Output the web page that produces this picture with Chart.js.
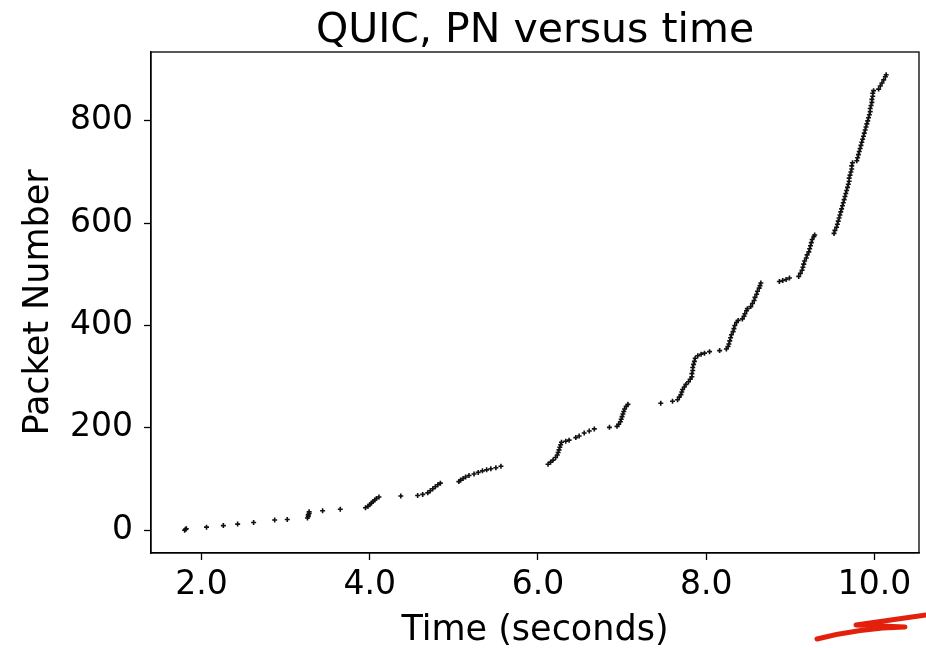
<!DOCTYPE html>
<html>
<head>
<meta charset="utf-8">
<script src="https://cdn.jsdelivr.net/npm/chart.js@4.4.0/dist/chart.umd.min.js"></script>
<style>
  html, body { margin: 0; padding: 0; background: #fff; }
  canvas { display: block; }
</style>
</head>
<body>
<canvas id="chart" width="926" height="648"></canvas>
<script>
// time (s) of each sent packet
const times = [
  1.80, 1.81, 1.82, 2.06, 2.26, 2.43, 2.62, 2.87, 3.02,
  3.26, 3.27, 3.27, 3.28, 3.28, 3.44, 3.65, 3.95,
  3.98, 4.00, 4.02, 4.04, 4.06, 4.08, 4.11,
  4.37, 4.57, 4.63, 4.69, 4.72, 4.75, 4.78, 4.81, 4.84,
  5.06, 5.08, 5.11, 5.14, 5.18, 5.24, 5.29, 5.34, 5.39, 5.44, 5.50, 5.56,
  6.12, 6.15, 6.18, 6.21, 6.23, 6.24, 6.25, 6.26, 6.27, 6.28,
  6.33, 6.37, 6.45, 6.49, 6.55, 6.61, 6.67, 6.85,
  6.94, 6.96, 6.98, 6.99, 7.00, 7.01, 7.02, 7.03, 7.05, 7.07,
  7.46, 7.60, 7.66, 7.68, 7.70, 7.71, 7.72, 7.74, 7.76, 7.79, 7.81, 7.83,
  7.83, 7.84, 7.84, 7.85, 7.86, 7.87, 7.90, 7.94, 7.98, 8.04, 8.16,
  8.24, 8.26, 8.27, 8.28, 8.29, 8.30, 8.32, 8.33, 8.34, 8.36, 8.38,
  8.43, 8.45, 8.46, 8.48, 8.49,
  8.53, 8.55, 8.57, 8.58, 8.60, 8.61, 8.63, 8.64, 8.65,
  8.87, 8.91, 8.95, 8.99,
  9.10, 9.12, 9.14, 9.15, 9.16, 9.17, 9.19, 9.20, 9.22, 9.23, 9.24, 9.25, 9.26, 9.28, 9.29,
  9.52, 9.53, 9.55, 9.56, 9.57, 9.58, 9.59, 9.60, 9.61, 9.62, 9.63, 9.64,
  9.65, 9.66, 9.67, 9.68, 9.69, 9.70, 9.70, 9.71, 9.72, 9.73, 9.73, 9.74,
  9.79, 9.80, 9.81, 9.82, 9.83, 9.84, 9.85, 9.86, 9.87, 9.88, 9.89, 9.90,
  9.91, 9.92, 9.93, 9.94, 9.95, 9.95, 9.96, 9.97, 9.97, 9.98, 9.98, 9.99,
  10.05, 10.07, 10.09, 10.11, 10.13, 10.14
];

// packet number for each of the times above
const packetNumbers = [
  0, 2, 3, 6, 9, 12, 15, 20, 21,
  24, 27, 30, 33, 36, 38, 41, 44,
  47, 50, 53, 56, 59, 62, 65,
  67, 68, 70, 73, 77, 81, 85, 89, 92,
  95, 98, 101, 104, 107, 110, 113, 116, 118, 120, 122, 125,
  129, 133, 137, 142, 147, 152, 157, 162, 167, 172,
  174, 176, 181, 184, 190, 194, 198, 201,
  203, 207, 212, 217, 222, 227, 232, 237, 242, 246,
  248, 252, 255, 260, 265, 270, 275, 280, 285, 290, 295, 300,
  306, 312, 318, 324, 330, 336, 341, 344, 346, 349, 351,
  354, 359, 364, 370, 376, 382, 388, 394, 400, 406, 410,
  413, 418, 423, 429, 433,
  437, 443, 449, 455, 461, 467, 473, 478, 483,
  486, 488, 490, 493,
  496, 502, 508, 514, 520, 526, 532, 538, 544, 550, 556, 562, 568, 574, 577,
  580, 586, 592, 598, 604, 610, 616, 622, 628, 634, 640, 646,
  652, 658, 664, 670, 676, 682, 688, 694, 700, 706, 712, 718,
  722, 728, 734, 740, 746, 752, 758, 764, 770, 776, 782, 788,
  794, 800, 806, 812, 818, 824, 830, 836, 842, 848, 854, 859,
  862, 868, 874, 880, 886, 890
];

const xTicks = [2, 4, 6, 8, 10];
const yTicks = [0, 200, 400, 600, 800];

const FONT = "'DejaVu Sans', sans-serif";

const frame = {
  id: "frame",
  afterDatasetsDraw(chart) {
    const { ctx, chartArea: a } = chart;
    ctx.save();
    ctx.strokeStyle = "#000";
    ctx.lineWidth = 1.3;
    ctx.strokeRect(a.left, a.top, a.right - a.left, a.bottom - a.top);
    ctx.restore();
  },
  afterDraw(chart) {
    const { ctx, chartArea: a } = chart;
    ctx.save();
    // title, centred over the axes like matplotlib does
    ctx.fillStyle = "#000";
    ctx.font = "41px " + FONT;
    ctx.textAlign = "center";
    ctx.textBaseline = "alphabetic";
    ctx.fillText("QUIC, PN versus time", (a.left + a.right) / 2, 42);
    // red pen scribble in the bottom right corner
    ctx.strokeStyle = "#e3200b";
    ctx.lineWidth = 5;
    ctx.lineCap = "round";
    ctx.lineJoin = "round";
    ctx.beginPath();
    ctx.moveTo(817, 639);
    ctx.quadraticCurveTo(860, 628, 905, 627);
    ctx.lineTo(856, 625);
    ctx.quadraticCurveTo(890, 620, 926, 615);
    ctx.stroke();
    ctx.restore();
  }
};

new Chart(document.getElementById("chart"), {
  type: "scatter",
  data: {
    datasets: [
      {
        label: "PN",
        data: times.map((t, i) => ({ x: t, y: packetNumbers[i] })),
        pointStyle: "cross",
        pointRadius: 2.5,
        pointHoverRadius: 2.5,
        borderColor: "#111",
        backgroundColor: "#111",
        borderWidth: 1.6,
      },
    ],
  },
  options: {
    responsive: false,
    animation: false,
    events: [],
    layout: { padding: { top: 52, right: 7, bottom: 0, left: 0 } },
    plugins: {
      legend: { display: false },
      tooltip: { enabled: false },
      title: { display: false },
    },
    scales: {
      x: {
        type: "linear",
        min: 1.4,
        max: 10.53,
        afterFit(scale) { scale.height = 95; },
        afterBuildTicks(scale) { scale.ticks = xTicks.map(v => ({ value: v })); },
        ticks: {
          callback: v => Number(v).toFixed(1),
          color: "#000",
          font: { family: FONT, size: 33 },
          padding: 6,
          maxRotation: 0,
        },
        grid: { drawOnChartArea: false, drawTicks: true, tickLength: 7, tickWidth: 1.3, tickColor: "#000" },
        border: { display: true, color: "#000", width: 1.3 },
        title: {
          display: true,
          text: "Time (seconds)",
          color: "#000",
          font: { family: FONT, size: 35, lineHeight: 1 },
          padding: { top: 0, bottom: 0 },
        },
      },
      y: {
        type: "linear",
        min: -44.5,
        max: 934.5,
        afterFit(scale) { scale.width = 151; },
        afterBuildTicks(scale) { scale.ticks = yTicks.map(v => ({ value: v })); },
        ticks: {
          color: "#000",
          font: { family: FONT, size: 33 },
          padding: 11,
        },
        grid: { drawOnChartArea: false, drawTicks: true, tickLength: 7, tickWidth: 1.3, tickColor: "#000" },
        border: { display: true, color: "#000", width: 1.3 },
        title: {
          display: true,
          text: "Packet Number",
          color: "#000",
          font: { family: FONT, size: 35, lineHeight: 1.2 },
          padding: { top: 18, bottom: 0 },
        },
      },
    },
  },
  plugins: [frame],
});
</script>
</body>
</html>
